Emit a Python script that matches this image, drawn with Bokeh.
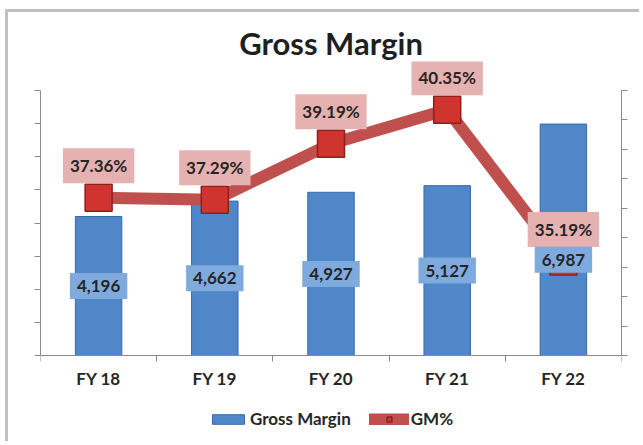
from bokeh.plotting import figure
from bokeh.models import (Range1d, LinearAxis, FixedTicker, ColumnDataSource, Legend,
                          LegendItem, CustomJSTickFormatter)
from bokeh.core.properties import value
from bokeh.embed import file_html
from bokeh.resources import INLINE

# ---- data ----
categories = ["FY 18", "FY 19", "FY 20", "FY 21", "FY 22"]
gross_margin = [4196, 4662, 4927, 5127, 6987]
gm_pct = [37.36, 37.29, 39.19, 40.35, 35.19]
left_ticks = [0, 1000, 2000, 3000, 4000, 5000, 6000, 7000, 8000]
right_ticks = [32, 33, 34, 35, 36, 37, 38, 39, 40, 41]

# ---- style / layout ----
FONT = "Lato"
AXIS_GRAY = "#8a8a8a"
TEXT = "#262626"
BAR_FILL = "#4f87c9"
BAR_LINE = "#3a6aa8"
LINE_RED = "#c0504d"
value_label_nudge_px = [0, 0, 0, 0, 20]

W, H = 634, 432                 # canvas size
CANVAS_Y0 = 12                  # page y of canvas top (margin + border)
AXIS_TOP_PX, AXIS_BOTTOM_PX = 90 - CANVAS_Y0, 355 - CANVAS_Y0   # axes span (canvas px)
FRAME_TOP_PX, FRAME_BOTTOM_PX = 61 - CANVAS_Y0, H


def padded_range(lo, hi):
    k = (hi - lo) / (AXIS_BOTTOM_PX - AXIS_TOP_PX)
    return Range1d(lo - (FRAME_BOTTOM_PX - AXIS_BOTTOM_PX) * k,
                   hi + (AXIS_TOP_PX - FRAME_TOP_PX) * k)


idx = list(range(len(categories)))
src = ColumnDataSource(dict(
    x=idx,
    gm=gross_margin,
    gm_mid=[v / 2 for v in gross_margin],
    gm_txt=[f"{v:,}" for v in gross_margin],
    pct=gm_pct,
    pct_txt=[f"{v:.2f}%" for v in gm_pct],
    nudge=value_label_nudge_px,
))

p = figure(width=W, height=H, output_backend="svg", toolbar_location=None,
           x_range=Range1d(-0.5, len(categories) - 0.5),
           y_range=padded_range(left_ticks[0], left_ticks[-1]),
           x_axis_location=None, y_axis_location=None,
           min_border_left=32, min_border_right=21,
           min_border_top=FRAME_TOP_PX, min_border_bottom=H - FRAME_BOTTOM_PX)
p.extra_y_ranges = {"pct": padded_range(right_ticks[0], right_ticks[-1])}
p.grid.visible = False
p.outline_line_color = None
p.background_fill_color = "white"
p.border_fill_color = "white"
p.styles = {"margin-left": "5px", "margin-top": "9px",
            "border-left": "3px solid #c0c0c0", "border-top": "3px solid #c0c0c0"}

blank = CustomJSTickFormatter(code="return ''")


def style_axis(ax):
    ax.axis_line_color = AXIS_GRAY
    ax.major_tick_line_color = AXIS_GRAY
    ax.minor_tick_line_color = None
    ax.major_tick_in = 0
    ax.major_tick_out = 6
    ax.major_label_standoff = 0


left = LinearAxis(ticker=FixedTicker(ticks=left_ticks), formatter=blank,
                  bounds=(left_ticks[0], left_ticks[-1]))
style_axis(left)
p.add_layout(left, "left")

right = LinearAxis(y_range_name="pct", ticker=FixedTicker(ticks=right_ticks), formatter=blank,
                   bounds=(right_ticks[0], right_ticks[-1]))
style_axis(right)
p.add_layout(right, "right")

bottom = LinearAxis(ticker=FixedTicker(ticks=idx, minor_ticks=[i - 0.5 for i in range(len(categories) + 1)]),
                    major_label_overrides={i: c for i, c in zip(idx, categories)},
                    fixed_location=left_ticks[0])
bottom.axis_line_color = AXIS_GRAY
bottom.major_tick_line_color = None
bottom.minor_tick_line_color = AXIS_GRAY
bottom.minor_tick_in = 0
bottom.minor_tick_out = 6
bottom.major_label_standoff = 6
bottom.major_label_text_font = FONT
bottom.major_label_text_font_style = "bold"
bottom.major_label_text_font_size = "17px"
bottom.major_label_text_color = TEXT
p.add_layout(bottom, "below")

bars = p.vbar(x="x", top="gm", bottom=0, width=0.4, source=src,
              fill_color=BAR_FILL, line_color=BAR_LINE, line_width=1)

line = p.line(x="x", y="pct", y_range_name="pct", source=src,
              line_color=LINE_RED, line_width=12, line_cap="round")
marks = p.scatter(x="x", y="pct", y_range_name="pct", source=src, marker="square",
                  size=27, fill_color="#d0342f", line_color="#8e1f1c", line_width=1.5)

p.text(x="x", y="pct", text="pct_txt", y_range_name="pct", source=src, y_offset=-32,
       text_align="center", text_baseline="middle", text_font=value(FONT),
       text_font_style="bold", text_font_size="17px", text_color=TEXT,
       background_fill_color="#e6b1b1", padding=7)

p.text(x="x", y="gm_mid", text="gm_txt", source=src, y_offset="nudge",
       text_align="center", text_baseline="middle", text_font=value(FONT),
       text_font_style="bold", text_font_size="17px", text_color=TEXT,
       background_fill_color="#7eaadd", padding=7)

legend = Legend(items=[LegendItem(label="Gross Margin", renderers=[bars]),
                       LegendItem(label="GM%", renderers=[line, marks])],
                orientation="horizontal", location=(168, 15),
                label_text_font=FONT, label_text_font_style="bold",
                label_text_font_size="17px", label_text_color=TEXT,
                glyph_width=40, glyph_height=12, spacing=18, label_standoff=2,
                border_line_color=None, background_fill_alpha=0, padding=0, margin=0)
p.add_layout(legend, "center")

p.title.text = "Gross Margin"
p.title.align = "center"
p.title.text_font = FONT
p.title.text_font_style = "bold"
p.title.text_font_size = "31px"
p.title.text_color = "#1f1f1f"
p.title.standoff = 0

open("out.html", "w").write(file_html(p, INLINE))
